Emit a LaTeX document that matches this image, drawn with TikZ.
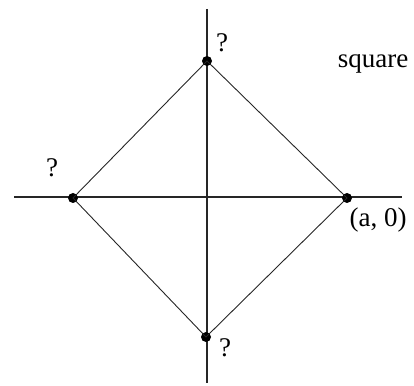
\documentclass[tikz,border=0pt]{standalone}
\usepackage{fontspec}
\setmainfont{Liberation Serif}
\begin{document}
\begin{tikzpicture}[x=1pt,y=1pt,
  axis/.style={line width=1.1pt,black!85},
  edge/.style={line width=0.9pt,black!85},
  dot/.style={circle,fill=black,inner sep=0pt,minimum size=10pt},
  lbl/.style={inner sep=0pt,font=\fontsize{27}{31}\selectfont}]
\useasboundingbox (0,0) rectangle (414,385);
\coordinate (vt) at (207,376);
\coordinate (vb) at (207,2);
\coordinate (hl) at (14,188);
\coordinate (hr) at (402,188);
\draw[axis] (vt) -- (vb);
\draw[axis] (hl) -- (hr);
\node[dot] (T) at (207,324) {};
\node[dot] (R) at (347,187) {};
\node[dot] (L) at (73,187) {};
\node[dot] (B) at (206,48) {};
\draw[edge] (T.center) -- (R.center) -- (B.center) -- (L.center) -- cycle;
\node[lbl] (qt) at (222,342) {?};
\node[lbl] (sq) at (373,321) {square};
\node[lbl] (ql) at (52,217) {?};
\node[lbl] (a0) at (378,165) {(a, 0)};
\node[lbl] (qb) at (225,37) {?};
\end{tikzpicture}
\end{document}
